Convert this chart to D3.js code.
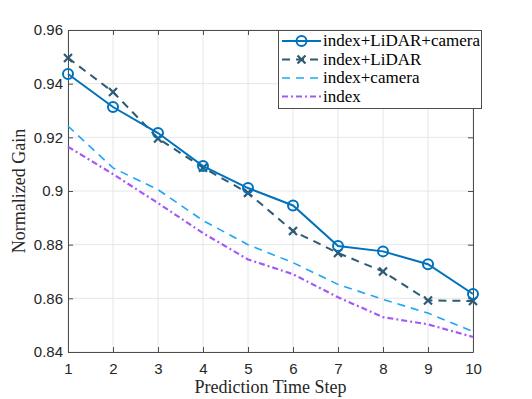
<!DOCTYPE html>
<html><head><meta charset="utf-8">
<script src="https://cdn.jsdelivr.net/npm/d3@7"></script>
<style>body{margin:0;background:#fff;}svg{display:block;}
</style>
</head><body>
<svg id="c" width="532" height="399"></svg>
<script>
const steps = [1,2,3,4,5,6,7,8,9,10];
const seriesNames = ["index+LiDAR+camera","index+LiDAR","index+camera","index"];
const valsLidarCam = [0.9436,0.9313,0.9216,0.9093,0.9011,0.8946,0.8795,0.8775,0.8727,0.8616];
const valsLidar    = [0.9496,0.9369,0.9196,0.9087,0.8993,0.8851,0.8769,0.8700,0.8592,0.8590];
const valsCam      = [0.9242,0.9086,0.9005,0.8890,0.8800,0.8733,0.8652,0.8596,0.8545,0.8476];
const valsIndex    = [0.9165,0.9063,0.8955,0.8843,0.8745,0.8690,0.8604,0.8530,0.8503,0.8456];
const xTicks = [1,2,3,4,5,6,7,8,9,10];
const yTicks = [0.84,0.86,0.88,0.9,0.92,0.94,0.96];

const SERIF = "Liberation Serif";
const SANS = "Liberation Sans";
const svg = d3.select("#c");
const L=68, R=473, T=30, B=352;
const x = d3.scaleLinear().domain([1,10]).range([L,R]);
const y = d3.scaleLinear().domain([0.84,0.96]).range([B,T]);
const axisColor = "#4d4d4d";

// grid
const g = svg.append("g");
g.selectAll(".gx").data(xTicks).enter().append("line")
  .attr("x1",d=>x(d)).attr("x2",d=>x(d)).attr("y1",T).attr("y2",B)
  .attr("stroke","#e6e6e6").attr("stroke-width",1);
g.selectAll(".gy").data(yTicks).enter().append("line")
  .attr("y1",d=>y(d)).attr("y2",d=>y(d)).attr("x1",L).attr("x2",R)
  .attr("stroke","#e6e6e6").attr("stroke-width",1);

// axes
const fmt = d => d3.format("")(+d.toFixed(2));
const xb = svg.append("g").attr("transform",`translate(0,${B})`)
  .call(d3.axisBottom(x).tickValues(xTicks).tickSizeInner(-5).tickSizeOuter(0).tickPadding(11));
const xt = svg.append("g").attr("transform",`translate(0,${T})`)
  .call(d3.axisTop(x).tickValues(xTicks).tickSizeInner(-5).tickSizeOuter(0).tickFormat(""));
const yl = svg.append("g").attr("transform",`translate(${L},0)`)
  .call(d3.axisLeft(y).tickValues(yTicks).tickSizeInner(-5).tickSizeOuter(0).tickPadding(5).tickFormat(fmt));
const yr = svg.append("g").attr("transform",`translate(${R},0)`)
  .call(d3.axisRight(y).tickValues(yTicks).tickSizeInner(-5).tickSizeOuter(0).tickFormat(""));
[xb,xt,yl,yr].forEach(a=>{
  a.attr("font-family",SANS).attr("font-size",15);
  a.selectAll("path").attr("stroke",axisColor).attr("stroke-width",1);
  a.selectAll("line").attr("stroke",axisColor);
  a.selectAll("text").attr("fill","#262626");
});

// series
const series = [
  {name:seriesNames[0], vals:valsLidarCam, color:"#0072BD", dash:null, marker:"o", w:2},
  {name:seriesNames[1], vals:valsLidar, color:"#2E5B73", dash:"8,6", marker:"x", w:2},
  {name:seriesNames[2], vals:valsCam, color:"#1CA6F5", dash:"8,6", marker:null, w:1.6},
  {name:seriesNames[3], vals:valsIndex, color:"#A259F7", dash:"6,3,2,3", marker:null, w:2.2}
];
const line = d3.line().x((d,i)=>x(steps[i])).y(d=>y(d));
const drawOrder = [3,2,1,0];
drawOrder.forEach(k=>{
  const s = series[k];
  svg.append("path").datum(s.vals).attr("d",line).attr("fill","none")
    .attr("stroke",s.color).attr("stroke-width",s.w)
    .attr("stroke-dasharray",s.dash);
  drawMarkers(svg, s, s.vals.map((v,i)=>[x(steps[i]),y(v)]));
});
function drawMarkers(sel, s, pts){
  if(s.marker==="o"){
    sel.selectAll(null).data(pts).enter().append("circle")
      .attr("cx",d=>d[0]).attr("cy",d=>d[1]).attr("r",5)
      .attr("fill","none").attr("stroke",s.color).attr("stroke-width",2);
  } else if(s.marker==="x"){
    const r=4;
    pts.forEach(p=>{
      sel.append("path").attr("d",`M${p[0]-r},${p[1]-r}L${p[0]+r},${p[1]+r}M${p[0]-r},${p[1]+r}L${p[0]+r},${p[1]-r}`)
        .attr("stroke",s.color).attr("stroke-width",2.2).attr("fill","none");
    });
  }
}

// labels
svg.append("text").attr("x",(L+R)/2).attr("y",393).attr("text-anchor","middle")
  .attr("font-family",SERIF).attr("font-size",18).attr("fill","#262626")
  .text("Prediction Time Step");
svg.append("text").attr("transform",`translate(25,${(T+B)/2}) rotate(-90)`).attr("text-anchor","middle")
  .attr("font-family",SERIF).attr("font-size",18).attr("fill","#262626")
  .text("Normalized Gain");

// legend
const lg = svg.append("g");
lg.append("rect").attr("x",278.5).attr("y",30.5).attr("width",203).attr("height",78)
  .attr("fill","#fff").attr("stroke",axisColor).attr("stroke-width",1);
series.forEach((s,i)=>{
  const yy = 41 + i*18.5;
  lg.append("line").attr("x1",282).attr("x2",321).attr("y1",yy).attr("y2",yy)
    .attr("stroke",s.color).attr("stroke-width",s.w).attr("stroke-dasharray",s.dash);
  drawMarkers(lg, s, [[301.5,yy]]);
  lg.append("text").attr("x",323).attr("y",yy+5).attr("font-family",SERIF)
    .attr("font-size",17).attr("fill","#000").text(s.name);
});
</script>
</body></html>
